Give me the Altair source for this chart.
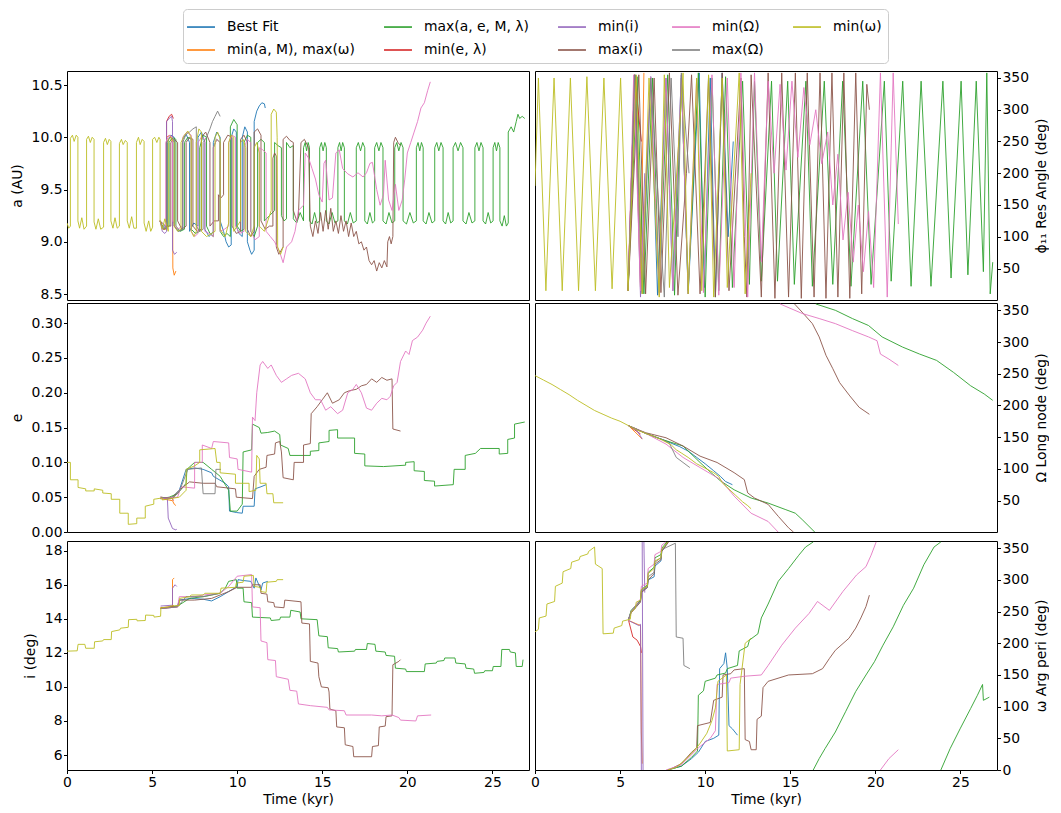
import altair as alt
import pandas as pd

# ---------------- series names / colours ----------------
S_BEST = "Best Fit"
S_MINAM = "min(a, M), max(ω)"
S_MAXAE = "max(a, e, M, λ)"
S_MINEL = "min(e, λ)"
S_MINI = "min(i)"
S_MAXI = "max(i)"
S_MINO = "min(Ω)"
S_MAXO = "max(Ω)"
S_MINW = "min(ω)"

DRAW_ORDER = [S_BEST, S_MINAM, S_MAXAE, S_MINEL, S_MINI, S_MAXI, S_MINO, S_MAXO, S_MINW]
LEGEND_ORDER = DRAW_ORDER
COLOR_OF = {S_BEST: "#1f77b4", S_MINAM: "#ff7f0e", S_MAXAE: "#2ca02c", S_MINEL: "#d62728",
            S_MINI: "#9467bd", S_MAXI: "#8c564b", S_MINO: "#e377c2", S_MAXO: "#7f7f7f", S_MINW: "#bcbd22"}

# ---------------- a (AU) ----------------
A_MINW = [(0,9.18),(0.1,9.13),(0.2,9.15),(0.2,9.99),(0.32,10.02),(0.42,9.96),(0.54,10.02),(0.64,10.0),
(0.64,9.2),(0.74,9.13),(0.87,9.23),(1.0,9.12),(1.15,9.15),
(1.15,9.98),(1.26,10.01),(1.37,9.95),(1.48,10.0),(1.59,9.98),
(1.59,9.19),(1.7,9.12),(1.84,9.22),(1.98,9.12),(2.15,9.14),
(2.15,9.95),(2.26,9.99),(2.37,9.93),(2.48,9.98),(2.58,9.96),
(2.58,9.2),(2.7,9.13),(2.82,9.23),(2.95,9.13),(3.08,9.15),
(3.08,9.94),(3.2,9.98),(3.3,9.93),(3.43,9.97),(3.54,9.95),
(3.54,9.2),(3.66,9.13),(3.8,9.24),(3.93,9.13),(4.08,9.13),
(4.08,9.95),(4.2,10.0),(4.3,9.93),(4.42,9.98),(4.53,9.96),
(4.53,9.18),(4.65,9.1),(4.8,9.2),(4.92,9.1),(5.03,9.14),
(5.03,9.98),(5.15,10.0),(5.28,9.95),(5.4,10.0),(5.47,9.98),
(5.47,9.2),(5.6,9.12),(5.75,9.22),(5.95,9.1),
(5.95,9.98),(6.1,10.0),(6.3,9.95),(6.3,9.15),(6.5,9.1),(6.7,9.12),
(6.7,9.95),(6.9,10.02),(7.1,10.06),(7.3,10.0),(7.3,9.1),(7.45,9.05),(7.6,9.1),
(7.6,9.95),(7.75,10.08),(7.9,10.05),(7.9,9.1),(8.2,9.05),(8.5,9.08),(8.7,9.1),
(8.7,10.0),(8.85,10.05),(9.0,9.98),(9.0,9.12),(9.3,9.05),(9.5,9.18),
(9.5,9.95),(9.65,10.02),(9.8,10.0),(9.8,9.1),(10.0,9.15),(10.2,9.2),
(10.2,9.95),(10.35,9.98),(10.5,9.9),(10.5,9.1),(10.8,9.05),(11.0,9.15),
(11.0,9.9),(11.15,9.95),(11.3,9.85),(11.3,9.15),(11.6,9.1),(11.8,9.2),(12.0,9.3),
(12.0,10.22),(12.15,10.27),(12.3,10.24),(12.35,10.0),(12.38,8.95),(12.55,8.88),(12.7,8.95)]
A_BEST = [(5.47,9.2),(5.6,9.15),(5.9,9.15),(5.9,9.95),(6.1,10.02),(6.3,10.0),(6.3,9.15),(6.55,9.1),(6.8,9.12),
(6.8,9.98),(7.0,10.03),(7.2,9.95),(7.2,9.1),(7.45,9.18),(7.7,9.15),(7.7,10.0),(7.9,10.05),(8.1,9.95),
(8.1,9.12),(8.35,9.05),(8.6,9.1),(8.6,9.95),(8.8,10.05),(9.0,10.0),(9.0,9.2),(9.2,9.1),(9.35,9.0),(9.5,8.95),
(9.65,8.97),(9.65,10.0),(9.8,10.08),(9.95,10.05),(9.95,9.15),(10.1,9.08),(10.3,9.05),(10.3,10.0),(10.45,10.1),
(10.6,10.05),(10.6,9.0),(10.75,8.92),(10.85,8.88),(11.0,8.92),(11.0,10.15),(11.15,10.25),(11.3,10.3),
(11.45,10.33),(11.6,10.32),(11.65,10.28)]
A_MINAM = [(5.47,9.2),(5.65,9.12),(5.85,9.12),(5.85,10.0),(6.05,10.02),(6.2,9.95),(6.22,8.75),(6.3,8.68),(6.4,8.72)]
A_MAXAE = [(5.47,9.2),(5.7,9.12),(6.0,9.15),(6.0,9.95),(6.2,10.0),(6.4,9.98),(6.4,9.15),(6.65,9.1),(6.9,9.12),
(6.9,9.95),(7.1,10.0),(7.3,9.98),(7.3,9.12),(7.55,9.08),(7.8,9.1),(7.8,9.9),(8.0,10.02),(8.2,10.0),(8.2,9.15),
(8.4,9.08),(8.6,9.05),(8.6,9.9),(8.8,9.98),(9.0,9.95),(9.0,9.1),(9.2,9.05),(9.4,9.08),(9.6,9.05),(9.6,10.1),
(9.8,10.17),(10.0,10.12),(10.0,9.15),(10.2,9.1),(10.4,9.12),(10.4,9.95),(10.6,10.02),(10.8,10.0),(10.8,9.1),
(11.0,9.05),(11.2,9.15),(11.2,9.95),(11.4,9.98),(11.6,9.95),(11.6,9.2),(11.9,9.25),(12.2,9.3),(12.2,9.95),
(12.4,9.92),(12.6,9.9),(12.6,9.25),(12.75,9.2),(12.9,9.22),(12.9,9.95),(13.1,9.9),(13.3,9.92),(13.3,9.22),
(13.5,9.18),(13.7,9.28),(13.9,9.2),
(13.9,9.9),(14.0,9.95),(14.08,9.87),(14.17,9.95),(14.25,9.9),
(14.25,9.2),(14.4,9.17),(14.55,9.28),(14.7,9.18),(14.85,9.2),
(14.85,9.9),(14.95,9.95),(15.05,9.87),(15.15,9.95),(15.24,9.9),
(15.24,9.2),(15.4,9.17),(15.58,9.28),(15.75,9.18),(15.92,9.2),
(15.92,9.9),(16.02,9.95),(16.11,9.87),(16.2,9.95),(16.3,9.9),
(16.3,9.2),(16.48,9.17),(16.65,9.28),(16.82,9.18),(17.0,9.2),
(17.0,9.9),(17.12,9.95),(17.25,9.87),(17.38,9.95),(17.5,9.9),
(17.5,9.2),(17.65,9.17),(17.8,9.28),(17.95,9.18),(18.08,9.2),
(18.08,9.9),(18.2,9.95),(18.33,9.87),(18.45,9.95),(18.57,9.9),
(18.57,9.2),(18.75,9.17),(18.92,9.28),(19.1,9.18),(19.26,9.2),
(19.26,9.9),(19.38,9.95),(19.5,9.87),(19.63,9.95),(19.75,9.9),
(19.75,9.2),(19.95,9.17),(20.15,9.28),(20.35,9.18),(20.53,9.2),
(20.53,9.9),(20.63,9.95),(20.73,9.87),(20.83,9.95),(20.93,9.9),
(20.93,9.2),(21.1,9.17),(21.27,9.28),(21.45,9.18),(21.61,9.2),
(21.61,9.9),(21.73,9.95),(21.85,9.87),(21.98,9.95),(22.1,9.9),
(22.1,9.2),(22.25,9.17),(22.4,9.28),(22.55,9.18),(22.69,9.2),
(22.69,9.9),(22.83,9.95),(22.98,9.87),(23.13,9.95),(23.27,9.9),
(23.27,9.2),(23.45,9.17),(23.62,9.28),(23.8,9.18),(23.97,9.2),
(23.97,9.9),(24.09,9.95),(24.21,9.87),(24.33,9.95),(24.45,9.9),
(24.45,9.2),(24.6,9.17),(24.75,9.28),(24.9,9.18),(25.04,9.2),
(25.04,9.9),(25.14,9.95),(25.24,9.87),(25.34,9.95),(25.44,9.9),
(25.44,9.2),(25.57,9.15),(25.7,9.25),(25.82,9.15),(25.93,9.18),
(25.93,10.05),(26.1,10.1),(26.25,10.05),(26.4,10.15),(26.5,10.22),(26.6,10.18),(26.75,10.2),(26.9,10.18)]
A_MINEL = [(5.47,9.2),(5.65,9.12),(5.85,9.15),(5.85,10.15),(6.0,10.2),(6.15,10.22),(6.25,10.18)]
A_MINI = [(5.47,9.2),(5.6,9.1),(5.75,9.08),(5.85,9.1),(5.85,10.15),(6.0,10.18),(6.15,10.2),(6.2,10.15),
(6.2,8.92),(6.32,8.88),(6.45,8.9)]
A_MAXI = [(5.47,9.2),(5.8,9.15),(6.1,9.15),(6.1,9.95),(6.3,9.98),(6.5,9.95),(6.5,9.2),(6.75,9.12),(7.0,9.15),
(7.0,9.95),(7.2,10.0),(7.4,9.98),(7.4,9.15),(7.65,9.1),(7.9,9.12),(7.9,10.0),(8.15,10.05),(8.4,9.95),(8.4,9.15),
(8.65,9.2),(8.9,9.2),(8.9,9.45),(9.05,9.42),(9.2,9.45),(9.2,9.95),(9.45,10.02),(9.7,10.0),(9.7,9.15),
(9.95,9.08),(10.2,9.1),(10.2,9.98),(10.4,10.02),(10.6,9.95),(10.6,9.12),(10.8,9.05),(11.0,9.1),(11.0,10.05),
(11.2,10.08),(11.4,10.02),(11.4,9.2),(11.65,9.12),(11.9,9.15),(12.1,9.15),(12.1,9.8),(12.2,9.85),(12.3,9.82),
(12.3,8.95),(12.45,8.88),(12.7,8.95),(12.7,9.98),(12.9,10.01),(13.1,9.97),(13.3,9.95),(13.3,9.3),(13.5,9.2),
(13.6,9.25),(13.75,9.95),(13.95,9.98),(14.2,9.9),(14.3,9.15),(14.45,9.05),(14.6,9.2),(14.75,9.08),(14.9,9.28),
(15.05,9.1),(15.2,9.3),(15.35,9.12),(15.5,9.32),(15.65,9.1),(15.8,9.2),(15.95,9.08),(16.1,9.25),(16.25,9.1),
(16.4,9.2),(16.55,9.05),(16.7,9.18),(16.85,9.05),(17.0,9.1),(17.15,8.98),(17.3,9.0),(17.45,8.92),(17.6,8.95),
(17.75,8.82),(17.9,8.78),(18.05,8.82),(18.2,8.72),(18.35,8.8),(18.5,8.75),(18.65,8.82),(18.8,8.76),(18.85,9.0),
(18.95,9.05),(19.05,8.98),(19.15,9.05),(19.2,9.95),(19.3,10.0),(19.45,9.95),(19.6,9.92)]
A_MINO = [(5.47,9.2),(5.65,9.12),(5.8,9.15),(5.8,9.95),(6.0,10.02),(6.2,10.0),(6.2,9.2),(6.5,9.12),(6.8,9.15),
(6.8,10.0),(7.05,10.05),(7.3,10.02),(7.3,9.1),(7.5,9.05),(7.7,9.08),(7.7,9.95),(7.9,10.0),(8.1,9.98),(8.1,9.1),
(8.35,9.08),(8.6,9.05),(8.6,9.9),(8.8,9.98),(9.0,9.95),(9.0,9.1),(9.25,9.12),(9.5,9.15),(9.5,9.95),(9.7,10.02),
(9.9,10.0),(9.9,9.15),(10.15,9.08),(10.4,9.1),(10.4,9.9),(10.6,9.98),(10.8,9.95),(10.8,9.1),(11.05,9.02),
(11.3,9.05),(11.3,9.9),(11.5,9.88),(11.7,9.85),(11.7,9.1),(11.95,9.05),(12.2,9.0),(12.5,8.9),(12.7,8.8),
(12.9,8.95),(13.2,9.0),(13.4,9.1),(13.6,9.3),(13.9,9.35),(14.0,9.85),(14.2,9.8),(14.4,9.7),(14.6,9.6),
(14.8,9.45),(15.0,9.38),(15.1,9.75),(15.2,9.78),(15.4,9.4),(15.6,9.42),(15.8,9.85),(16.0,9.88),(16.2,9.7),
(16.5,9.65),(16.8,9.62),(17.1,9.66),(17.4,9.62),(17.6,9.66),(17.8,9.75),(17.95,9.76),(18.2,9.5),(18.4,9.35),
(18.6,9.45),(18.7,9.78),(18.9,9.4),(19.1,9.3),(19.3,9.55),(19.5,9.3),(19.7,9.4),(19.85,9.6),(20.0,9.85),
(20.2,9.95),(20.4,10.05),(20.6,10.15),(20.8,10.28),(21.0,10.33),(21.2,10.45),(21.35,10.53)]
A_MAXO = [(5.47,9.2),(5.65,9.12),(5.85,9.15),(5.85,9.95),(6.05,10.0),(6.3,9.98),(6.3,9.15),(6.55,9.1),(6.8,9.12),
(6.8,9.95),(7.0,10.03),(7.2,10.05),(7.4,10.08),(7.6,10.1),(7.6,9.15),(7.8,9.1),(8.0,9.12),(8.0,9.95),(8.2,10.0),
(8.4,10.08),(8.55,10.15),(8.7,10.2),(8.85,10.25),(9.0,10.2)]

# ---------------- e ----------------
E_MINW = [(0,0.1),(0.2,0.1),(0.2,0.075),(0.65,0.075),(0.65,0.064),(1.1,0.062),(1.1,0.059),(1.6,0.059),
(1.6,0.062),(2.1,0.06),(2.1,0.056),(2.6,0.055),(2.6,0.047),(3.1,0.047),(3.1,0.027),(3.6,0.027),(3.6,0.011),
(4.1,0.012),(4.1,0.02),(4.6,0.02),(4.6,0.037),(5.1,0.04),(5.1,0.047),(5.6,0.049),(5.6,0.046),(6.1,0.048),
(6.6,0.05),(7.0,0.06),(7.0,0.09),(7.5,0.095),(7.8,0.1),(7.8,0.118),(8.7,0.12),(8.8,0.1),(9.0,0.1),(9.0,0.085),
(9.9,0.083),(9.9,0.07),(10.7,0.07),(10.7,0.058),(11.1,0.06),(11.15,0.11),(11.3,0.105),(11.35,0.07),(11.7,0.07),
(11.75,0.055),(12.1,0.055),(12.15,0.042),(12.7,0.042)]
E_BEST = [(5.5,0.048),(6.1,0.048),(6.6,0.06),(7.0,0.09),(7.5,0.092),(8.0,0.09),(8.5,0.085),(8.6,0.08),(9.3,0.07),
(9.5,0.065),(9.55,0.03),(9.95,0.028),(10.3,0.027),(10.35,0.037),(11.0,0.037),(11.05,0.062),(11.4,0.065),(11.7,0.068)]
E_MINAM = [(5.5,0.048),(6.2,0.045),(6.3,0.04),(6.4,0.038)]
E_MAXAE = [(5.5,0.048),(6.0,0.05),(6.5,0.055),(7.0,0.07),(7.05,0.09),(7.5,0.1),(8.0,0.1),(8.5,0.09),(9.0,0.08),
(9.5,0.06),(9.6,0.03),(10.0,0.03),(10.3,0.04),(10.35,0.115),(10.85,0.118),(10.9,0.155),(11.3,0.15),(11.4,0.142),
(11.8,0.143),(12.2,0.145),(12.5,0.14),(12.55,0.125),(13.0,0.12),(13.1,0.11),(14.3,0.11),(14.3,0.116),(14.8,0.117),
(14.8,0.128),(15.4,0.13),(15.4,0.146),(15.9,0.147),(15.9,0.135),(16.9,0.135),(16.9,0.113),(17.5,0.112),
(17.5,0.095),(18.6,0.094),(19.9,0.096),(19.9,0.1),(20.4,0.101),(20.4,0.088),(21.0,0.087),(21.0,0.074),
(21.6,0.073),(21.6,0.066),(22.7,0.068),(22.75,0.09),(23.4,0.09),(23.4,0.11),(24.0,0.113),(24.3,0.12),
(25.4,0.12),(25.4,0.112),(25.9,0.113),(25.9,0.133),(26.3,0.135),(26.3,0.155),(26.9,0.158)]
E_MINEL = [(5.5,0.05),(6.2,0.048),(6.25,0.045)]
E_MINI = [(5.5,0.05),(5.9,0.048),(5.95,0.02),(6.2,0.005),(6.4,0.003),(6.45,0.004)]
E_MAXI = [(5.5,0.048),(6.2,0.05),(6.6,0.06),(7.2,0.072),(8.0,0.07),(8.7,0.07),(8.8,0.065),(9.9,0.062),(9.95,0.05),
(10.9,0.048),(11.0,0.08),(11.3,0.09),(11.7,0.093),(11.75,0.11),(12.2,0.112),(12.25,0.128),(12.5,0.13),
(12.6,0.115),(12.7,0.078),(13.3,0.075),(13.35,0.1),(13.9,0.1),(13.9,0.125),(14.3,0.127),(14.35,0.17),
(14.7,0.18),(15.0,0.19),(15.3,0.2),(15.6,0.185),(16.0,0.19),(16.3,0.2),(16.6,0.203),(17.0,0.205),(17.3,0.21),
(17.6,0.212),(17.9,0.22),(18.2,0.215),(18.5,0.222),(18.8,0.218),(19.1,0.22),(19.15,0.148),(19.6,0.145)]
E_MINO = [(5.5,0.048),(6.5,0.05),(6.7,0.065),(7.5,0.063),(7.5,0.1),(7.95,0.1),(7.95,0.125),(8.5,0.12),
(8.6,0.13),(9.5,0.128),(9.55,0.107),(10.0,0.105),(10.05,0.09),(10.85,0.086),(10.9,0.165),(11.05,0.16),
(11.15,0.2),(11.35,0.24),(11.5,0.245),(11.8,0.235),(12.0,0.24),(12.3,0.225),(12.6,0.215),(12.9,0.22),
(13.2,0.225),(13.6,0.228),(14.0,0.22),(14.3,0.2),(14.6,0.19),(14.9,0.19),(15.2,0.175),(15.5,0.18),(15.9,0.17),
(16.2,0.175),(16.5,0.2),(16.8,0.205),(17.0,0.212),(17.3,0.2),(17.6,0.178),(17.9,0.175),(18.2,0.185),
(18.5,0.192),(18.8,0.19),(19.0,0.195),(19.2,0.21),(19.4,0.215),(19.6,0.245),(19.9,0.26),(20.1,0.255),
(20.3,0.275),(20.6,0.28),(20.9,0.29),(21.1,0.3),(21.35,0.31)]
E_MAXO = [(5.5,0.05),(6.2,0.048),(6.6,0.058),(7.1,0.09),(7.9,0.092),(8.0,0.055),(8.7,0.055),(8.75,0.09),(9.05,0.09)]

# ---------------- i (deg) ----------------
I_MINW = [(0,12.1),(0.6,12.12),(0.65,12.5),(1.05,12.5),(1.1,12.27),(1.6,12.27),(1.62,12.65),(2.1,12.7),
(2.15,12.78),(2.6,12.78),(2.62,13.25),(3.1,13.35),(3.15,13.45),(3.6,13.5),(3.62,13.95),(4.1,13.97),
(4.12,13.88),(4.6,13.9),(4.62,14.22),(5.1,14.2),(5.12,14.1),(5.5,14.15),(5.52,14.65),(6.0,14.7),(6.05,14.75),
(6.6,14.78),(6.62,15.2),(7.2,15.3),(7.3,15.4),(8.0,15.4),(8.1,15.5),(9.0,15.5),(9.05,15.8),(9.9,15.85),
(9.95,16.1),(10.35,16.15),(10.4,16.5),(10.95,16.55),(11.0,15.9),(11.35,15.85),(11.4,15.6),(11.7,15.55),
(11.75,16.15),(12.3,16.2),(12.35,16.3),(12.7,16.3)]
I_BEST = [(5.5,14.6),(6.5,14.75),(6.6,15.1),(7.3,15.2),(8.0,15.15),(8.5,15.05),(9.0,15.3),(9.5,15.6),(10.0,15.9),
(10.05,16.3),(10.35,16.25),(10.8,16.2),(11.0,15.8),(11.1,16.4),(11.4,15.7),(11.5,16.1),(11.8,16.2)]
I_MINAM = [(5.5,14.65),(6.2,14.7),(6.2,16.3),(6.3,16.4)]
I_MAXAE = [(5.5,14.6),(6.5,14.75),(7.2,15.2),(8.0,15.3),(9.0,15.5),(9.3,15.8),(9.5,16.2),(9.95,16.3),(10.0,15.8),
(10.35,15.8),(10.4,15.0),(10.85,14.95),(10.9,14.1),(11.95,14.05),(12.0,13.9),(12.5,13.95),(12.55,14.1),
(13.1,14.1),(13.15,14.5),(13.7,14.4),(13.75,14.0),(14.7,13.95),(14.8,13.0),(15.3,12.95),(15.35,12.3),
(15.9,12.25),(15.95,12.05),(16.9,12.1),(16.95,12.2),(17.6,12.2),(17.65,12.55),(18.1,12.5),(18.15,12.1),
(18.7,12.05),(18.75,11.85),(19.25,11.8),(19.3,11.1),(19.9,11.05),(19.95,10.9),(21.0,10.9),(21.05,11.35),
(21.7,11.4),(21.75,11.5),(22.15,11.55),(22.2,11.7),(22.8,11.7),(22.85,11.4),(23.4,11.35),(23.45,11.1),
(23.9,11.05),(23.95,10.8),(24.5,10.85),(24.55,10.95),(25.0,10.95),(25.05,11.2),(25.5,11.2),(25.55,12.2),
(26.0,12.2),(26.05,12.05),(26.35,12.0),(26.4,11.2),(26.75,11.2),(26.8,11.6)]
I_MINEL = [(5.5,14.65),(6.2,14.7),(6.25,14.8)]
I_MINI = [(5.5,14.75),(6.2,14.8),(6.2,15.8),(6.35,16.0),(6.45,15.9)]
I_MAXI = [(5.5,14.6),(6.5,14.7),(6.6,15.1),(7.5,15.1),(8.5,15.2),(9.0,15.4),(9.5,15.6),(10.0,15.85),(10.85,15.85),
(10.9,16.0),(11.35,16.0),(11.4,15.5),(11.75,15.45),(11.8,15.0),(12.15,14.95),(12.2,14.7),(12.75,14.65),
(12.8,15.1),(13.75,15.0),(13.8,13.75),(14.25,13.7),(14.3,11.5),(14.75,11.4),(14.8,10.6),(14.95,10.0),
(15.35,9.95),(15.4,9.7),(15.45,8.7),(15.8,8.6),(15.85,7.65),(16.3,7.6),(16.35,6.6),(16.8,6.5),(16.85,5.9),
(17.9,5.9),(17.95,6.5),(18.3,6.55),(18.35,7.65),(18.7,7.7),(18.75,8.25),(19.1,8.3),(19.15,11.3),(19.5,11.5),
(19.6,11.6)]
I_MINO = [(5.5,14.6),(6.5,14.7),(6.6,15.3),(7.5,15.3),(8.0,15.4),(9.0,15.5),(9.5,15.9),(10.0,16.5),(10.85,16.6),
(10.9,14.7),(11.35,14.65),(11.4,12.7),(11.75,12.6),(11.8,11.6),(12.25,11.55),(12.3,10.6),(13.0,10.45),
(13.1,9.8),(13.5,9.75),(13.6,9.0),(14.3,8.9),(15.3,8.8),(15.4,8.65),(16.3,8.6),(16.4,8.35),(17.9,8.35),
(18.5,8.3),(19.1,8.35),(19.5,8.2),(19.6,8.05),(20.5,8.0),(20.6,8.3),(21.4,8.35)]
I_MAXO = [(5.5,14.6),(6.5,14.7),(7.0,15.3),(8.0,15.3),(8.5,15.4),(9.0,15.5)]

# ---------------- phi_11 resonant angle (deg) ----------------
P_MINW = [(0,180),(0.2,350),(0.64,15),(1.12,350),(1.6,15),(2.08,350),(2.56,15),(3.05,352),(3.55,15),(4.05,350),
(4.53,18),(5.03,350),(5.47,15),(5.95,355),(6.3,10),(6.7,350),(7.3,5),(7.6,355),(7.9,20),(8.7,358),(9.0,10),
(9.5,350),(9.8,15),(10.2,355),(10.5,5),(11.0,350),(11.3,20),(12.0,358),(12.35,10),(12.7,200)]
P_BEST = [(5.47,15),(5.9,355),(6.3,12),(6.8,352),(7.2,8),(7.7,350),(8.1,15),(8.6,355),(9.0,10),(9.65,358),
(9.95,20),(10.3,350),(10.6,5),(11.0,358),(11.35,100),(11.65,250)]
P_MINAM = [(5.47,15),(5.85,355),(6.2,20),(6.4,358)]
P_MAXAE = [(5.47,15),(6.0,352),(6.4,10),(6.9,350),(7.3,12),(7.8,355),(8.2,8),(8.6,350),(9.0,15),(9.6,358),
(10.0,5),(10.4,350),(10.8,15),(11.2,352),(11.6,20),(12.2,345),(12.6,25),(12.9,345),(13.3,30),(13.9,345),
(14.25,30),(14.85,345),(15.24,25),(15.92,345),(16.3,22),(17.0,345),(17.5,25),(18.08,345),(18.57,22),
(19.26,345),(19.75,25),(20.53,345),(20.93,30),(21.61,345),(22.1,22),(22.69,345),(23.27,22),(23.97,345),
(24.45,35),(25.04,345),(25.44,40),(25.93,345),(26.35,45),(26.55,358),(26.75,10),(26.9,60)]
P_MINEL = [(5.47,15),(5.85,355),(6.25,250)]
P_MINI = [(5.47,15),(5.85,352),(6.2,5),(6.45,200)]
P_MAXI = [(5.47,15),(6.1,355),(6.5,10),(7.0,350),(7.4,12),(7.9,358),(8.4,8),(8.9,200),(9.2,355),(9.7,10),
(10.2,352),(10.6,5),(11.0,358),(11.4,15),(12.1,350),(12.3,100),(12.45,5),(12.7,355),(13.0,180),(13.3,5),
(13.7,358),(14.1,3),(14.5,358),(14.9,5),(15.3,358),(15.65,3),(16.0,358),(16.4,5),(16.75,358),(17.1,3),
(17.45,358),(17.8,5),(18.15,358),(18.5,3),(18.85,358),(19.2,10),(19.5,340),(19.65,300)]
P_MINO = [(5.47,15),(5.8,355),(6.2,15),(6.8,352),(7.3,8),(7.7,350),(8.1,15),(8.6,355),(9.0,10),(9.5,350),
(9.9,12),(10.4,355),(10.8,8),(11.3,350),(11.7,20),(12.1,358),(12.5,5),(12.9,358),(13.3,60),(13.7,345),
(14.05,200),(14.4,340),(14.75,205),(15.1,345),(15.45,225),(15.8,335),(16.15,245),(16.5,300),(16.85,215),
(17.2,265),(17.5,150),(17.8,230),(18.1,95),(18.4,170),(18.7,60),(19.0,150),(19.3,45),(19.6,140),(19.9,20),
(20.3,358),(20.7,5),(21.05,358),(21.35,120)]
P_MAXO = [(5.47,15),(5.85,355),(6.3,10),(6.8,350),(7.6,5),(8.0,350),(8.4,100),(8.6,358),(9.05,200)]

# ---------------- Omega long. node (deg); None = wrap ----------------
O_MINW = [(0,247),(0.5,240),(1.0,233),(1.5,225),(2.0,217),(2.5,208),(3.0,200),(3.5,192),(4.0,186),(4.5,180),
(5.0,175),(5.5,168),(6.0,161),(6.5,156),(7.0,151),(7.5,145),(8.0,138),(8.3,130),(8.6,125),(9.0,118),
(9.5,108),(10.0,101),(10.5,94),(10.8,88),(11.0,78),(11.4,68),(11.8,58),(12.2,48),(12.5,42),(12.7,37)]
O_BEST = [(5.5,168),(6.5,156),(7.5,146),(8.5,135),(9.0,128),(9.5,118),(10.0,108),(10.5,97),(10.9,88),(11.2,80),(11.6,75)]
O_MINAM = [(5.5,168),(6.3,147)]
O_MAXAE = [(5.5,168),(6.5,156),(7.5,146),(8.7,136),(9.7,110),(10.3,95),(10.9,81),(11.7,67),(12.7,54),(13.7,46),
(14.7,36),(15.3,30),(15.7,20),(16.45,0), None, (16.5,360),(17.65,350),(18.65,337),(19.6,326),(20.4,308),
(21.6,292),(22.6,281),(23.6,271),(24.6,252),(25.6,231),(26.4,218),(26.9,208)]
O_MINEL = [(5.5,168),(6.2,155)]
O_MINI = [(5.5,168),(6.0,160),(6.3,147)]
O_MAXI = [(5.5,168),(6.5,157),(7.7,149),(8.7,136),(9.7,120),(10.7,110),(11.7,94),(12.3,83),(12.5,62),(12.9,54),
(13.7,44),(14.3,25),(14.9,7),(15.2,0), None, (15.25,360),(15.7,347),(16.3,329),(16.7,308),(17.1,279),
(17.5,258),(17.9,236),(18.5,215),(19.05,197),(19.65,186)]
O_MINO = [(5.5,168),(6.5,156),(7.7,139),(8.7,118),(9.7,102),(10.9,83),(11.7,57),(12.7,30),(13.7,17),(14.3,0), None,
(14.4,360),(15.7,345),(16.7,337),(17.65,329),(18.65,318),(19.6,308),(20.1,302),(20.3,281),(20.8,273),(21.35,263)]
O_MAXO = [(5.5,168),(6.5,156),(7.5,146),(7.9,140),(8.3,118),(9.1,102)]

# ---------------- omega arg. perihelion (deg); None = wrap ----------------
W_MINW = [(0,218),(0.2,222),(0.25,240),(0.65,243),(0.7,262),(1.15,266),(1.2,290),(1.6,295),(1.65,313),(2.1,318),
(2.15,328),(2.6,332),(2.65,337),(3.1,341),(3.15,345),(3.5,352),(3.55,325),(3.95,318),(4.0,215),(4.6,216),
(4.65,224),(5.1,228),(5.15,235),(5.6,238),(5.65,250),(5.9,255),(5.95,265),(6.2,268),(6.25,285),(6.6,290),
(6.65,310),(7.0,318),(7.05,330),(7.4,335),(7.45,348),(7.8,360), None, (7.8,0),(8.3,4),(8.9,18),(9.4,32),
(9.7,42),(10.1,58),(10.4,78),(10.6,98),(10.75,140),(11.25,150),(11.3,30),(12.0,32),(12.05,135),(12.35,200),(12.7,208)]
W_BEST = [(5.5,238),(5.65,250),(6.2,268),(6.25,282),(6.6,288),(6.65,300),(7.0,305),(7.05,322),(7.4,330),(7.45,345),
(7.8,360), None, (7.8,0),(8.6,6),(9.2,18),(9.6,28),(10.0,45),(10.5,50),(10.8,55),(10.85,160),(11.1,168),
(11.2,185),(11.3,160),(11.4,70),(11.6,65),(11.9,55)]
W_MINAM = [(5.5,236),(6.2,228),(6.25,60),(6.3,10)]
W_MAXAE = [(5.5,238),(5.65,252),(6.2,268),(6.25,285),(6.6,292),(6.65,312),(7.0,320),(7.05,335),(7.4,340),
(7.45,350),(7.75,360), None, (7.75,0),(8.6,6),(9.2,20),(9.55,30),(9.6,118),(9.9,125),(10.0,140),(10.6,145),
(10.7,150),(11.2,153),(11.3,160),(11.9,165),(12.0,188),(12.5,195),(12.6,205),(13.1,215),(13.3,240),(13.7,262),
(14.3,298),(14.9,318),(15.5,339),(15.9,352),(16.35,360), None, (16.35,0),(16.7,18),(17.05,34),(17.65,60),
(18.25,92),(18.85,124),(19.45,150),(19.95,171),(20.45,197),(21.05,226),(21.65,260),(22.25,287),(22.85,324),
(23.45,352),(23.85,360), None, (23.85,0),(24.4,34),(25.0,66),(25.6,97),(26.0,118),(26.3,135),(26.35,110),(26.7,115)]
W_MINEL = [(5.5,236),(5.75,210),(6.0,205),(6.2,195),(6.25,185)]
W_MINI = [(5.5,236),(6.1,228),(6.2,230),(6.25,0), None, (6.3,360),(6.35,0), None, (6.4,360),(6.45,280)]
W_MAXI = [(5.5,238),(5.65,248),(6.2,265),(6.25,280),(6.6,288),(6.65,300),(7.0,310),(7.05,325),(7.4,332),
(7.45,345),(7.85,360), None, (7.85,0),(8.6,10),(9.2,28),(9.5,35),(9.55,70),(10.3,75),(10.5,110),(11.0,115),
(11.05,150),(11.5,152),(11.7,158),(12.3,160),(12.35,48),(12.6,45),(12.7,32),(13.0,32),(13.05,80),(13.3,85),
(13.4,130),(13.7,140),(14.9,150),(16.3,152),(16.9,160),(17.3,176),(17.65,189),(18.45,208),(18.85,224),
(19.15,240),(19.45,258),(19.65,276)]
W_MINO = [(5.5,238),(5.65,250),(6.2,270),(6.25,290),(6.6,295),(6.65,318),(7.0,325),(7.05,340),(7.4,345),
(7.45,355),(7.7,360), None, (7.7,0),(8.6,8),(9.6,35),(10.3,50),(10.6,62),(10.7,135),(11.4,138),(11.5,145),
(12.3,148),(13.3,150),(13.7,165),(14.5,197),(15.3,224),(16.1,247),(16.6,266),(17.3,252),(18.1,282),
(18.9,308),(19.45,321),(19.75,339),(20.05,360), None, (20.3,0),(20.8,18),(21.35,32)]
W_MAXO = [(5.5,238),(5.65,250),(6.2,266),(6.25,283),(6.6,290),(6.65,305),(7.0,312),(7.05,328),(7.4,335),
(7.45,348),(8.25,358),(8.3,210),(8.7,208),(8.75,165),(9.1,160)]

PANELS = [
    ("a", "a (AU)", [8.443, 10.634], [8.5, 9.0, 9.5, 10.0, 10.5], ".1f", "left",
     [A_BEST, A_MINAM, A_MAXAE, A_MINEL, A_MINI, A_MAXI, A_MINO, A_MAXO, A_MINW]),
    ("phi", "ϕ₁₁ Res Angle (deg)", [0.4, 361.0], [50, 100, 150, 200, 250, 300, 350], "d", "right",
     [P_BEST, P_MINAM, P_MAXAE, P_MINEL, P_MINI, P_MAXI, P_MINO, P_MAXO, P_MINW]),
    ("e", "e", [0.0, 0.329], [0.0, 0.05, 0.10, 0.15, 0.20, 0.25, 0.30], ".2f", "left",
     [E_BEST, E_MINAM, E_MAXAE, E_MINEL, E_MINI, E_MAXI, E_MINO, E_MAXO, E_MINW]),
    ("Om", "Ω Long node (deg)", [0.4, 361.5], [50, 100, 150, 200, 250, 300, 350], "d", "right",
     [O_BEST, O_MINAM, O_MAXAE, O_MINEL, O_MINI, O_MAXI, O_MINO, O_MAXO, O_MINW]),
    ("i", "i (deg)", [5.12, 18.57], [6, 8, 10, 12, 14, 16, 18], "d", "left",
     [I_BEST, I_MINAM, I_MAXAE, I_MINEL, I_MINI, I_MAXI, I_MINO, I_MAXO, I_MINW]),
    ("w", "ω Arg peri (deg)", [0.0, 361.5], [0, 50, 100, 150, 200, 250, 300, 350], "d", "right",
     [W_BEST, W_MINAM, W_MAXAE, W_MINEL, W_MINI, W_MAXI, W_MINO, W_MAXO, W_MINW]),
]

T_DOMAIN = [0, 27.15]
T_TICKS = [0, 5, 10, 15, 20, 25]
W, H = 462, 229
FS = 13.9

color_enc = alt.Color(
    "series:N",
    scale=alt.Scale(domain=LEGEND_ORDER, range=[COLOR_OF[s] for s in LEGEND_ORDER]),
    legend=alt.Legend(title=None, orient="none", legendX=116, legendY=-62, columns=5,
                      symbolType="M-1.27,0L1.27,0", symbolSize=484, symbolStrokeWidth=1.6,
                      labelFontSize=FS, labelFont="DejaVu Sans", labelColor="black", labelOffset=14,
                      columnPadding=25, rowPadding=4, padding=6,
                      strokeColor="#cccccc", fillColor="white", cornerRadius=4,
                      labelLimit=300),
)


def rows_for(points, series, key):
    rows = []
    seg = 0
    for k, p in enumerate(points):
        if p is None:
            seg += 1
            continue
        rows.append({"t": p[0], "v": p[1], "series": series, "seg": f"{key}-{seg}", "k": k})
    return pd.DataFrame(rows)


charts = []
for idx, (key, title, dom, ticks, fmt, side, series_lists) in enumerate(PANELS):
    bottom = idx >= 4
    xaxis = alt.Axis(values=T_TICKS, title="Time (kyr)" if bottom else None, labels=bottom,
                     ticks=bottom, tickSize=3.5, labelPadding=1.5, domain=False, grid=False,
                     labelFlush=False, titlePadding=4)
    if side == "left":
        yaxis = alt.Axis(values=ticks, title=title, orient="left", format=fmt, grid=False, domain=False,
                         tickSize=3.5, labelPadding=1.5, labelFlush=False, titlePadding=7)
    else:
        yaxis = alt.Axis(values=ticks, title=title, orient="right", format=fmt, grid=False, domain=False,
                         tickSize=3.5, labelPadding=1.5, labelFlush=False, titleAngle=270,
                         titleBaseline="top", titlePadding=6)
    layers = []
    for s, pts in zip(DRAW_ORDER, series_lists):
        df = rows_for(pts, s, key)
        layers.append(
            alt.Chart(df).mark_line(strokeWidth=0.9, clip=True).encode(
                x=alt.X("t:Q", scale=alt.Scale(domain=T_DOMAIN, nice=False, zero=False), axis=xaxis),
                y=alt.Y("v:Q", scale=alt.Scale(domain=dom, nice=False, zero=False), axis=yaxis),
                color=color_enc,
                detail="seg:N",
                order="k:Q",
            )
        )
    charts.append(alt.layer(*layers).properties(width=W, height=H))

chart = alt.concat(*charts, columns=2, spacing={"row": 0, "column": 0}).properties(
    padding={"left": 1, "top": 0, "right": 0, "bottom": 2}
).configure_view(stroke="black", strokeWidth=1).configure_axis(
    labelFont="DejaVu Sans", titleFont="DejaVu Sans", labelFontSize=FS, titleFontSize=FS,
    titleFontWeight="normal", labelColor="black", titleColor="black", tickColor="black"
)

chart.save("out.html", embed_options={"renderer": "svg", "actions": False})
